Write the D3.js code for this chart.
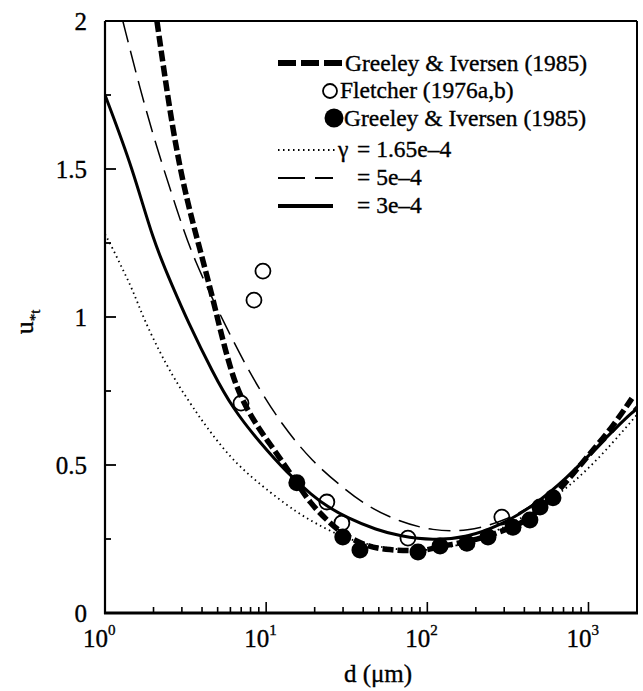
<!DOCTYPE html>
<html>
<head>
<meta charset="utf-8">
<script src="https://cdn.jsdelivr.net/npm/d3@7"></script>
<style>
  body { margin: 0; background: #fff; }
</style>
</head>
<body>
<svg id="chart" width="643" height="691"></svg>
<script>
// Threshold friction velocity vs grain diameter
// curves
var giCurveD = [2.1, 2.64, 3.23, 3.88, 4.68, 5.17, 5.96, 6.9, 8.8, 10.6, 13, 15.5, 18.7, 23.8, 30, 42.8, 58.6, 80, 100, 120, 176, 238, 340, 433, 500, 602, 800, 1065, 1415, 1860];
var giCurveU = [2.0, 1.62, 1.39, 1.23, 1.06, 0.96, 0.83, 0.73, 0.63, 0.57, 0.5, 0.44, 0.372, 0.314, 0.265, 0.223, 0.213, 0.21, 0.212, 0.225, 0.24, 0.26, 0.29, 0.32, 0.355, 0.39, 0.47, 0.55, 0.63, 0.725];

var g165D = [1, 1.12, 1.29, 1.49, 1.72, 2.19, 2.64, 3.05, 3.72, 4.06, 6.22, 11.0, 15.5, 20.7, 30, 50, 100, 200, 500, 1000, 2000];
var g165U = [1.28, 1.23, 1.16, 1.09, 1.0, 0.88, 0.80, 0.745, 0.675, 0.645, 0.51, 0.40, 0.34, 0.30, 0.255, 0.22, 0.205, 0.24, 0.35, 0.48, 0.67];

var g5D = [1.29, 1.65, 2.10, 2.80, 3.51, 5.70, 8.28, 12.7, 19.5, 28.6, 42.2, 67.4, 108, 176, 300, 500, 1000, 2000];
var g5U = [2.0, 1.77, 1.57, 1.36, 1.2, 0.96, 0.79, 0.63, 0.51, 0.432, 0.36, 0.308, 0.278, 0.275, 0.31, 0.375, 0.52, 0.70];

var g3D = [1, 1.49, 1.98, 2.64, 3.23, 4.68, 6.22, 9.16, 13.4, 19.5, 23.9, 31.7, 48.6, 67.4, 108, 176, 281, 452, 733, 1170, 1790, 2000];
var g3U = [1.75, 1.5, 1.26, 1.1, 0.99, 0.81, 0.69, 0.575, 0.475, 0.395, 0.36, 0.322, 0.28, 0.26, 0.245, 0.255, 0.295, 0.36, 0.455, 0.57, 0.67, 0.69];

// measurements
var fletcherD = [6.98, 8.40, 9.55, 23.8, 29.5, 75.8, 290];
var fletcherU = [0.709, 1.057, 1.155, 0.375, 0.304, 0.253, 0.324];

var giDataD = [15.5, 29.9, 38.2, 87.5, 120, 176, 238, 340, 433, 500, 602];
var giDataU = [0.44, 0.257, 0.213, 0.206, 0.226, 0.236, 0.257, 0.29, 0.314, 0.358, 0.389];

var yTicks = [0, 0.5, 1, 1.5, 2];
var xDecades = [0, 1, 2, 3];

var serif = "'Liberation Serif', 'Times New Roman', Times, 'DejaVu Serif', serif";
var svg = d3.select("#chart")
  .style("font-family", serif);
var pLeft = 105, pRight = 637, pTop = 21, pBottom = 613;

var x = d3.scaleLog().domain([1, 2000]).range([pLeft, pRight]);
var y = d3.scaleLinear().domain([0, 2]).range([pBottom, pTop]);

function zip(ds, us) {
  return ds.map(function(d, i) { return [d, us[i]]; });
}

var line = d3.line()
  .x(function(p) { return x(p[0]); })
  .y(function(p) { return y(p[1]); })
  .curve(d3.curveBasis);

svg.append("clipPath").attr("id", "clip")
  .append("rect").attr("x", pLeft).attr("y", pTop - 1)
  .attr("width", pRight - pLeft).attr("height", pBottom - pTop + 1);
var plot = svg.append("g").attr("clip-path", "url(#clip)");

// curves
plot.append("path").datum(zip(g165D, g165U))
  .attr("d", line).attr("fill", "none").attr("stroke", "#000")
  .attr("stroke-width", 1.8).attr("stroke-dasharray", "1.5,3.5");

plot.append("path").datum(zip(g5D, g5U))
  .attr("d", line).attr("fill", "none").attr("stroke", "#000")
  .attr("stroke-width", 1.5).attr("stroke-dasharray", "22,9");

plot.append("path").datum(zip(g3D, g3U))
  .attr("d", line).attr("fill", "none").attr("stroke", "#000")
  .attr("stroke-width", 3);

plot.append("path").datum(zip(giCurveD, giCurveU))
  .attr("d", line).attr("fill", "none").attr("stroke", "#000")
  .attr("stroke-width", 5.5).attr("stroke-dasharray", "11,4");

// points
plot.selectAll("circle.open").data(zip(fletcherD, fletcherU)).enter()
  .append("circle").attr("class", "open")
  .attr("cx", function(p) { return x(p[0]); })
  .attr("cy", function(p) { return y(p[1]); })
  .attr("r", 7.5).attr("fill", "none").attr("stroke", "#000").attr("stroke-width", 1.8);

plot.selectAll("circle.filled").data(zip(giDataD, giDataU)).enter()
  .append("circle").attr("class", "filled")
  .attr("cx", function(p) { return x(p[0]); })
  .attr("cy", function(p) { return y(p[1]); })
  .attr("r", 8.5).attr("fill", "#000");

// frame
var frame = svg.append("g").attr("stroke", "#000").attr("fill", "none");
frame.append("line").attr("x1", pLeft).attr("x2", pRight).attr("y1", pTop).attr("y2", pTop).attr("stroke-width", 1.8);
frame.append("line").attr("x1", pRight).attr("x2", pRight).attr("y1", pTop).attr("y2", pBottom).attr("stroke-width", 2);
frame.append("line").attr("x1", pLeft).attr("x2", pLeft).attr("y1", pTop).attr("y2", pBottom + 1).attr("stroke-width", 2.2);
frame.append("line").attr("x1", pLeft - 1).attr("x2", pRight + 1).attr("y1", pBottom).attr("y2", pBottom).attr("stroke-width", 2.8);

// y ticks (inward), minor every 0.25
d3.range(0, 2.01, 0.25).forEach(function(v) {
  var major = yTicks.indexOf(v) >= 0;
  frame.append("line").attr("x1", pLeft).attr("x2", pLeft + (major ? 11 : 6))
    .attr("y1", y(v)).attr("y2", y(v)).attr("stroke-width", 1.8);
});

function txt(sel) {
  return sel.attr("fill", "#000").attr("stroke", "#000").attr("stroke-width", 0.35)
    .style("font-family", serif);
}

svg.selectAll("text.ytick").data(yTicks).enter().append("text")
  .attr("class", "ytick")
  .attr("x", pLeft - 18).attr("y", function(v) { return y(v); })
  .attr("dy", "0.34em").attr("text-anchor", "end")
  .style("font-size", "25px")
  .call(txt)
  .text(function(v) { return v; });

// x ticks (inward), log minors
xDecades.forEach(function(e) {
  d3.range(1, 10).forEach(function(m) {
    var v = m * Math.pow(10, e);
    if (v >= 2000) return;
    frame.append("line").attr("x1", x(v)).attr("x2", x(v))
      .attr("y1", pBottom).attr("y2", pBottom - (m === 1 ? 11 : 6)).attr("stroke-width", 1.6);
  });
});
var xl = svg.selectAll("text.xtick").data(xDecades).enter().append("text")
  .attr("class", "xtick")
  .attr("x", function(e) { return x(Math.pow(10, e)) - 22; })
  .attr("y", 647)
  .style("font-size", "25px")
  .call(txt);
xl.append("tspan").text("10");
xl.append("tspan").attr("dy", -12).style("font-size", "15px").text(function(e) { return e; });

// axis titles
svg.append("text").attr("x", 378).attr("y", 682).attr("text-anchor", "middle")
  .style("font-size", "25px").call(txt).text("d (\u03bcm)");

var yl = svg.append("text").attr("transform", "translate(33,322) rotate(-90)")
  .attr("text-anchor", "middle").style("font-size", "26px").call(txt);
yl.append("tspan").text("u");
yl.append("tspan").attr("dy", 7).style("font-size", "15px").text("*t");

// legend
var lg = svg.append("g");
var lx0 = 278;
function lgText(xp, yp, s) {
  lg.append("text").attr("x", xp).attr("y", yp).style("font-size", "23.5px").call(txt).text(s);
}
lg.append("line").attr("x1", lx0).attr("x2", 342).attr("y1", 63).attr("y2", 63)
  .attr("stroke", "#000").attr("stroke-width", 6).attr("stroke-dasharray", "18,5");
lgText(345, 71, "Greeley & Iversen (1985)");

lg.append("circle").attr("cx", 330).attr("cy", 91).attr("r", 7)
  .attr("fill", "none").attr("stroke", "#000").attr("stroke-width", 1.8);
lgText(340, 98, "Fletcher (1976a,b)");

lg.append("circle").attr("cx", 334).attr("cy", 118).attr("r", 9.5).attr("fill", "#000");
lgText(344, 126, "Greeley & Iversen (1985)");

lg.append("line").attr("x1", lx0).attr("x2", 335).attr("y1", 150).attr("y2", 150)
  .attr("stroke", "#000").attr("stroke-width", 1.8).attr("stroke-dasharray", "1.5,3.5");
lgText(338, 157, "\u03b3");
lgText(357, 157, "= 1.65e\u20134");

lg.append("line").attr("x1", lx0).attr("x2", 333).attr("y1", 178).attr("y2", 178)
  .attr("stroke", "#000").attr("stroke-width", 1.8).attr("stroke-dasharray", "27,10");
lgText(357, 185, "= 5e\u20134");

lg.append("line").attr("x1", lx0).attr("x2", 333).attr("y1", 206).attr("y2", 206)
  .attr("stroke", "#000").attr("stroke-width", 4);
lgText(357, 213, "= 3e\u20134");
</script>
</body>
</html>
